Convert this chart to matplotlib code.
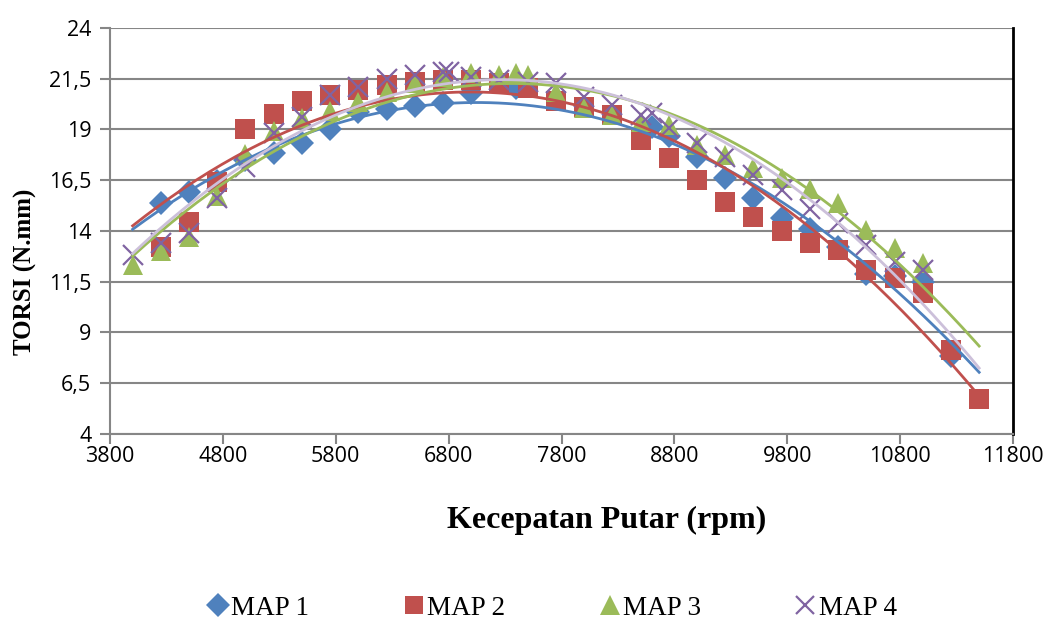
import numpy as np
import matplotlib
matplotlib.use('Agg')
import matplotlib.pyplot as plt
from matplotlib.lines import Line2D

# MAP 1
rpm_map1 = [4250, 4500, 4750, 5000, 5250, 5500, 5750, 6000, 6250, 6500, 6750, 7000,
            7400, 8600, 8750, 9000, 9250, 9500, 9750, 10000, 10250, 10500, 10750, 11000, 11250]
torsi_map1 = [15.36, 15.93, 16.45, 17.5, 17.82, 18.31, 19.0, 19.87, 20.0, 20.15, 20.3, 20.8,
              21.05, 19.1, 18.68, 17.66, 16.59, 15.6, 14.62, 14.1, 13.2, 11.9, 11.8, 11.5, 7.85]

# MAP 2
rpm_map2 = [4250, 4500, 4750, 5000, 5250, 5500, 5750, 6000, 6250, 6500, 6750, 7000, 7250,
            7500, 7750, 8000, 8250, 8500, 8750, 9000, 9250, 9500, 9750, 10000, 10250, 10500,
            10750, 11000, 11250, 11500]
torsi_map2 = [13.23, 14.46, 16.43, 19.0, 19.74, 20.4, 20.69, 20.94, 21.18, 21.35, 21.45, 21.43, 21.26,
              21.02, 20.4, 20.11, 19.7, 18.47, 17.58, 16.51, 15.44, 14.7, 13.97, 13.39, 13.06, 12.08,
              11.67, 10.94, 8.15, 5.7]

# MAP 3
rpm_map3 = [4000, 4250, 4500, 4750, 5000, 5250, 5500, 5750, 6000, 6250, 6500, 6750, 7000, 7250,
            7400, 7500, 7750, 8000, 8250, 8500, 8750, 9000, 9250, 9500, 9750, 10000, 10250, 10500,
            10750, 11000]
torsi_map3 = [12.3, 13.0, 13.72, 15.7, 17.8, 18.9, 19.54, 19.9, 20.36, 20.85, 21.3, 21.6, 21.75, 21.67,
              21.75, 21.67, 20.85, 20.03, 19.7, 19.38, 19.2, 18.23, 17.74, 17.08, 16.59, 16.05, 15.36, 14.05,
              13.15, 12.41]

# MAP 4
rpm_map4 = [4000, 4250, 4500, 4750, 5000, 5250, 5500, 5750, 6000, 6250, 6500, 6750, 6800, 7000,
            7250, 7500, 7750, 8000, 8250, 8500, 8600, 8750, 9000, 9250, 9500, 9750, 10000, 10250,
            10500, 10750, 11000]
torsi_map4 = [12.82, 13.4, 13.9, 15.6, 17.16, 18.8, 19.62, 20.7, 21.1, 21.5, 21.67, 21.84, 21.84, 21.6,
              21.43, 21.34, 21.26, 20.6, 20.2, 19.7, 19.8, 19.05, 18.31, 17.66, 16.76, 16.0, 15.1, 14.38,
              13.31, 12.49, 12.08]

x_ticks = [3800, 4800, 5800, 6800, 7800, 8800, 9800, 10800, 11800]
y_ticks = [4, 6.5, 9, 11.5, 14, 16.5, 19, 21.5, 24]
y_tick_labels = ['4', '6,5', '9', '11,5', '14', '16,5', '19', '21,5', '24']

series = [
    ('MAP 1', rpm_map1, torsi_map1, 'D', '#4F81BD', '#4F81BD', 12.5),
    ('MAP 2', rpm_map2, torsi_map2, 's', '#C0504D', '#C0504D', 14),
    ('MAP 3', rpm_map3, torsi_map3, '^', '#9BBB59', '#9BBB59', 15),
    ('MAP 4', rpm_map4, torsi_map4, 'x', '#8064A2', '#CCC0DA', 14),
]

fig = plt.figure(figsize=(10.49, 6.24), dpi=100)
ax = fig.add_axes([0.1049, 0.3045, 0.8608, 0.651])

handles = []
for name, xs, ys, mk, col, tcol, ms in series:
    mew = 1.6 if mk == 'x' else 0
    ax.plot(xs, ys, linestyle='none', marker=mk, color=col, markersize=ms, mew=mew, zorder=3)
    handles.append(Line2D([], [], linestyle='none', marker=mk, color=col,
                          markersize=ms * 0.95, mew=mew))

# polynomial (order 2) trendlines
xx = np.linspace(4000, 11500, 200)
for name, xs, ys, mk, col, tcol, ms in series:
    coef = np.polyfit(xs, ys, 2)
    ax.plot(xx, np.polyval(coef, xx), color=tcol, linewidth=2, zorder=4)

ax.set_xlim(3800, 11800)
ax.set_ylim(4, 24)
ax.set_xticks(x_ticks)
ax.set_yticks(y_ticks)
ax.set_yticklabels(y_tick_labels)
ax.grid(axis='y', color='#868686', linewidth=1.5, zorder=0)
ax.set_axisbelow(True)

ax.spines['top'].set_visible(False)
for s in ['left', 'bottom']:
    ax.spines[s].set_color('#868686')
    ax.spines[s].set_linewidth(1.5)
ax.spines['right'].set_color('black')
ax.spines['right'].set_linewidth(2)

ax.tick_params(axis='both', direction='out', length=7, width=1.5, color='#868686',
               labelsize=15.5)
ax.tick_params(axis='y', pad=6.5)
ax.tick_params(axis='x', pad=1.5)
for lab in ax.get_xticklabels() + ax.get_yticklabels():
    lab.set_fontfamily('Open Sans')

fig.text(607 / 1049, 1 - 520 / 624, 'Kecepatan Putar (rpm)', ha='center', va='center',
         fontfamily='Liberation Serif', fontweight='bold', fontsize=23)
fig.text(25 / 1049, 1 - 272 / 624, 'TORSI (N.mm)', ha='center', va='center', rotation=90,
         fontfamily='Liberation Serif', fontweight='bold', fontsize=18)

fig.legend(handles, [s[0] for s in series], loc='center left', bbox_to_anchor=(0.2, 0.025),
           ncol=4, frameon=False, prop={'family': 'Liberation Serif', 'size': 19.5},
           handlelength=0.6, handletextpad=0.2, columnspacing=3.55,
           borderpad=0, borderaxespad=0)

plt.savefig('out.png', dpi=100)
